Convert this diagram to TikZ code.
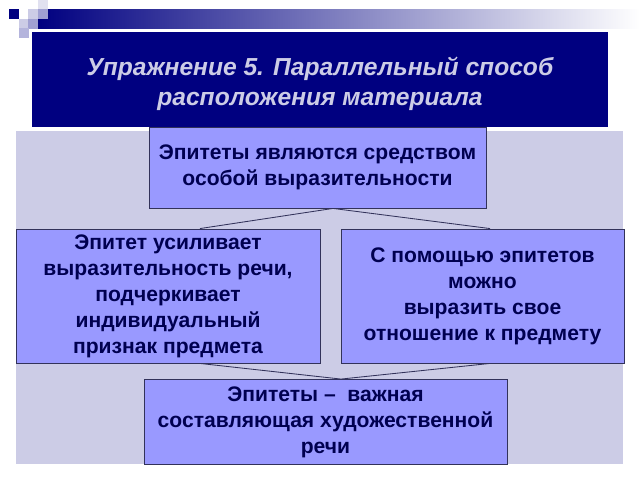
\documentclass[tikz,border=0pt]{standalone}
\usepackage{fontspec}
\setmainfont{Liberation Sans}
\usepackage{tikz}
\definecolor{navy}{RGB}{0,0,128}
\definecolor{panel}{RGB}{204,204,230}
\definecolor{boxfill}{RGB}{153,153,255}
\definecolor{boxline}{RGB}{50,50,90}
\definecolor{boxtext}{RGB}{0,0,80}
\definecolor{titletext}{RGB}{204,204,230}
\definecolor{sqlight}{RGB}{204,204,230}
\definecolor{sqpale}{RGB}{225,225,240}
\definecolor{sqmid}{RGB}{160,160,210}
\definecolor{sqsoft}{RGB}{180,180,220}
\tikzset{
	idea/.style={draw=boxline, line width=0.6pt, fill=boxfill, text=boxtext, align=center,
		font=\fontsize{15}{18.5}\selectfont\bfseries, inner sep=0pt},
	link/.style={boxline, line width=0.6pt}
}

\begin{document}
\begin{tikzpicture}[x=0.025cm,y=-0.025cm]
		\useasboundingbox (0,0) rectangle (640,480);
		\shade[left color=navy, right color=white] (38,9) rectangle (640,28);
		\foreach \sx/\sy/\sc in {9/9/navy, 28/9/sqlight, 38/0/sqpale, 38/9/sqmid, 19/19/sqlight, 28/19/sqmid, 19/28/sqsoft}
			\fill[\sc] (\sx,\sy) rectangle ++(10,10);
		\fill[panel] (16,131) rectangle (623,464);
		\fill[navy] (32,32) rectangle (608,127);
		\node[text=titletext, align=center, font=\fontsize{17.5}{21.3}\selectfont\bfseries\itshape] (title) at (320,84)
			{Упражнение 5. Параллельный способ\\расположения материала};
		\node[idea, minimum width=8.425cm, minimum height=2.025cm] (top) at (317.5,167.5)
			{Эпитеты являются средством\\особой выразительности};
		\node[idea, minimum width=7.6cm, minimum height=3.35cm] (left) at (168,296)
			{Эпитет усиливает\\выразительность речи,\\подчеркивает\\индивидуальный\\признак предмета};
		\node[idea, minimum width=7.075cm, minimum height=3.35cm] (right) at (482.5,296)
			{С помощью эпитетов\\можно\\выразить свое\\отношение к предмету};
		\node[idea, minimum width=9.075cm, minimum height=2.125cm] (bottom) at (325.5,422)
			{Эпитеты –\ \ важная\\составляющая художественной\\речи};
		\coordinate (upjoin) at (top.south -| 333,0);
		\coordinate (lowjoin) at (bottom.north -| 341,0);
		\draw[link] (left.north -| 200,0) -- (upjoin) -- (right.north -| 490,0);
		\draw[link] (left.south -| 200,0) -- (lowjoin) -- (right.south -| 490,0);
	\end{tikzpicture}
\end{document}
